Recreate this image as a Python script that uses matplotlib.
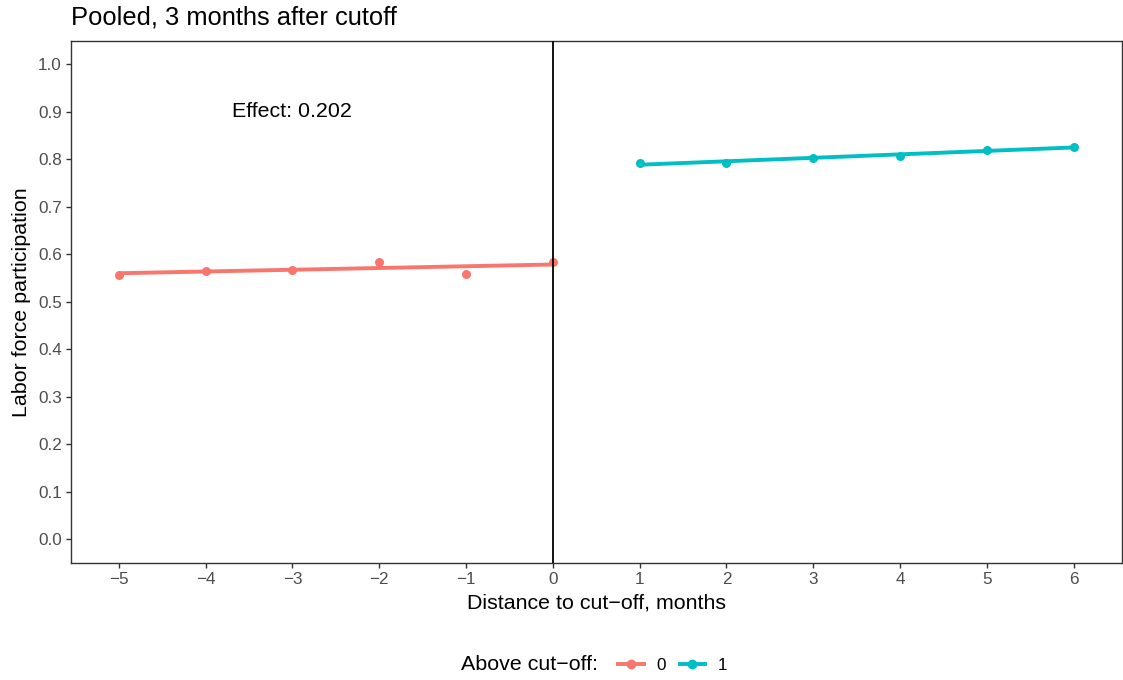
import numpy as np
import matplotlib
matplotlib.use("Agg")
import matplotlib.pyplot as plt
from matplotlib.lines import Line2D

plt.rcParams['font.family'] = ['Liberation Sans', 'DejaVu Sans']

# Data
x_below = [-5, -4, -3, -2, -1, 0]
y_below = [0.557, 0.565, 0.567, 0.584, 0.559, 0.583]
x_above = [1, 2, 3, 4, 5, 6]
y_above = [0.793, 0.792, 0.802, 0.808, 0.820, 0.826]
groups = ["0", "1"]
colors = ["#F8766D", "#00BFC4"]
effect_label = "Effect: 0.202"
title = "Pooled, 3 months after cutoff"
xlabel = "Distance to cut\u2212off, months"
ylabel = "Labor force participation"
legend_title = "Above cut\u2212off:"
x_ticks = list(range(-5, 7))
y_ticks = [round(0.1 * i, 1) for i in range(11)]

fig = plt.figure(figsize=(11.23, 6.8), dpi=100)
ax = fig.add_axes([71/1123, 1-562.7/680, (1121.5-71)/1123, (562.7-40.7)/680])

for xs, ys, c in [(x_below, y_below, colors[0]), (x_above, y_above, colors[1])]:
    xs = np.asarray(xs, float); ys = np.asarray(ys, float)
    b, a = np.polyfit(xs, ys, 1)
    xx = np.array([xs.min(), xs.max()])
    ax.plot(xx, a + b * xx, color=c, lw=2.8, solid_capstyle='butt', zorder=2)
    ax.scatter(xs, ys, s=42, color=c, zorder=3, linewidths=0)

ax.axvline(0, color='black', lw=1.3, zorder=4)
ax.text(-3, 0.9, effect_label, ha='center', va='center', fontsize=15.4, color='black')

ax.set_xlim(-5.55, 6.55)
ax.set_ylim(-0.05, 1.05)
ax.set_xticks(x_ticks)
ax.set_xticklabels([str(t).replace('-', '\u2212') for t in x_ticks])
ax.set_yticks(y_ticks)
ax.set_yticklabels([f"{t:.1f}" for t in y_ticks])
ax.tick_params(axis='both', labelsize=12.3, labelcolor='#4D4D4D', color='#333333',
               length=3.6, width=1.0, pad=3)
for s in ax.spines.values():
    s.set_color('#333333'); s.set_linewidth(1.0)

ax.set_xlabel(xlabel, fontsize=15.4, labelpad=5)
ax.set_ylabel(ylabel, fontsize=15.4, labelpad=5)
fig.text(71/1123, 1-24/680, title, fontsize=18.4, ha='left', va='baseline')

handles = [Line2D([], [], color=c, lw=2.8, marker='o', markersize=6) for c in colors]
fig.text(461/1123, 1-665/680, legend_title, fontsize=15.4, ha='left', va='center')
fig.legend(handles, groups, loc='center left', bbox_to_anchor=(618/1123, 1-665/680),
           ncol=2, frameon=False, fontsize=12.3, handlelength=1.5, handletextpad=0.75,
           columnspacing=0.8, borderpad=0, borderaxespad=0)

fig.savefig("out.png", dpi=100)
